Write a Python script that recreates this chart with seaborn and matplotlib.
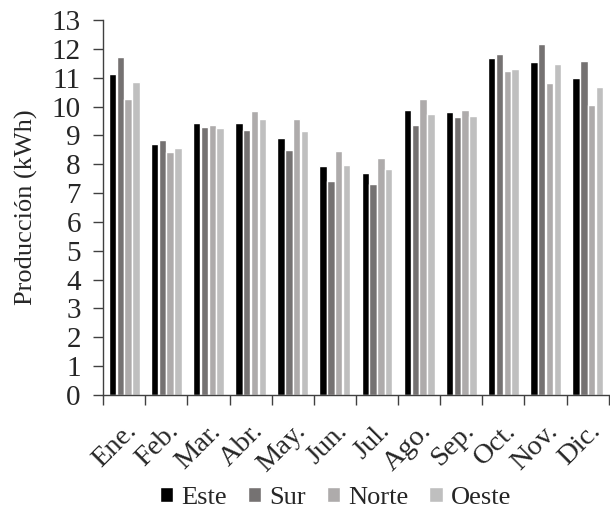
import numpy as np
import matplotlib
matplotlib.use("Agg")
import matplotlib.pyplot as plt
import pandas as pd
import seaborn as sns

meses = ["Ene.", "Feb.", "Mar.", "Abr.", "May.", "Jun.", "Jul.", "Ago.", "Sep.", "Oct.", "Nov.", "Dic."]
este = [11.14, 8.70, 9.42, 9.45, 8.93, 7.95, 7.71, 9.88, 9.83, 11.68, 11.54, 10.98]
sur = [11.72, 8.85, 9.31, 9.19, 8.49, 7.43, 7.33, 9.38, 9.64, 11.81, 12.18, 11.58]
norte = [10.28, 8.42, 9.36, 9.84, 9.58, 8.46, 8.21, 10.26, 9.88, 11.22, 10.83, 10.06]
oeste = [10.87, 8.56, 9.27, 9.58, 9.16, 7.97, 7.84, 9.75, 9.69, 11.31, 11.48, 10.68]
series = ["Este", "Sur", "Norte", "Oeste"]
colores = ["#000000", "#767171", "#aeaaaa", "#bfbfbf"]

df = pd.DataFrame({"Mes": meses, "Este": este, "Sur": sur, "Norte": norte, "Oeste": oeste})
df = df.melt(id_vars="Mes", var_name="Orientacion", value_name="Produccion")

sns.set_style("white")
plt.rcParams["font.family"] = ["Liberation Serif", "DejaVu Serif"]

fig = plt.figure(figsize=(6.1, 5.17), dpi=100)
ax = fig.add_axes([0.169, 0.236, 0.829, 0.725])

sns.barplot(data=df, x="Mes", y="Produccion", hue="Orientacion", hue_order=series,
            palette=colores, width=0.74, gap=0.05, edgecolor="white", linewidth=1.0,
            ax=ax, legend=True)

ax.set_ylim(0, 13)
ax.set_yticks(range(0, 14))
ax.set_xlim(-0.5, len(meses) - 0.5)
ax.set_ylabel("Producción (kWh)", fontsize=19, labelpad=10)
ax.set_xlabel("")

for s in ["top", "right"]:
    ax.spines[s].set_visible(False)
for s in ["left", "bottom"]:
    ax.spines[s].set_color("#404040")
    ax.spines[s].set_linewidth(1.0)

ax.tick_params(axis="y", which="major", direction="out", length=7, width=1, color="#404040", labelsize=21, left=True, pad=9)
ax.set_xticks(range(len(meses)))
ax.set_xticklabels(meses, rotation=45, ha="right", rotation_mode="anchor", fontsize=20.5)
ax.tick_params(axis="x", which="major", length=0, pad=17)
ax.set_xticks(np.arange(-0.5, len(meses), 1), minor=True)
ax.tick_params(axis="x", which="minor", direction="out", length=7, width=1, color="#404040", bottom=True)

handles, labels = ax.get_legend_handles_labels()
ax.get_legend().remove()
fig.legend(handles, labels, loc="lower center", bbox_to_anchor=(0.55, -0.03), ncol=4,
           frameon=False, prop={"family": "Liberation Serif", "size": 19},
           handlelength=0.5, handleheight=0.5, handletextpad=0.3, columnspacing=0.8)

fig.savefig("out.png", dpi=100)
